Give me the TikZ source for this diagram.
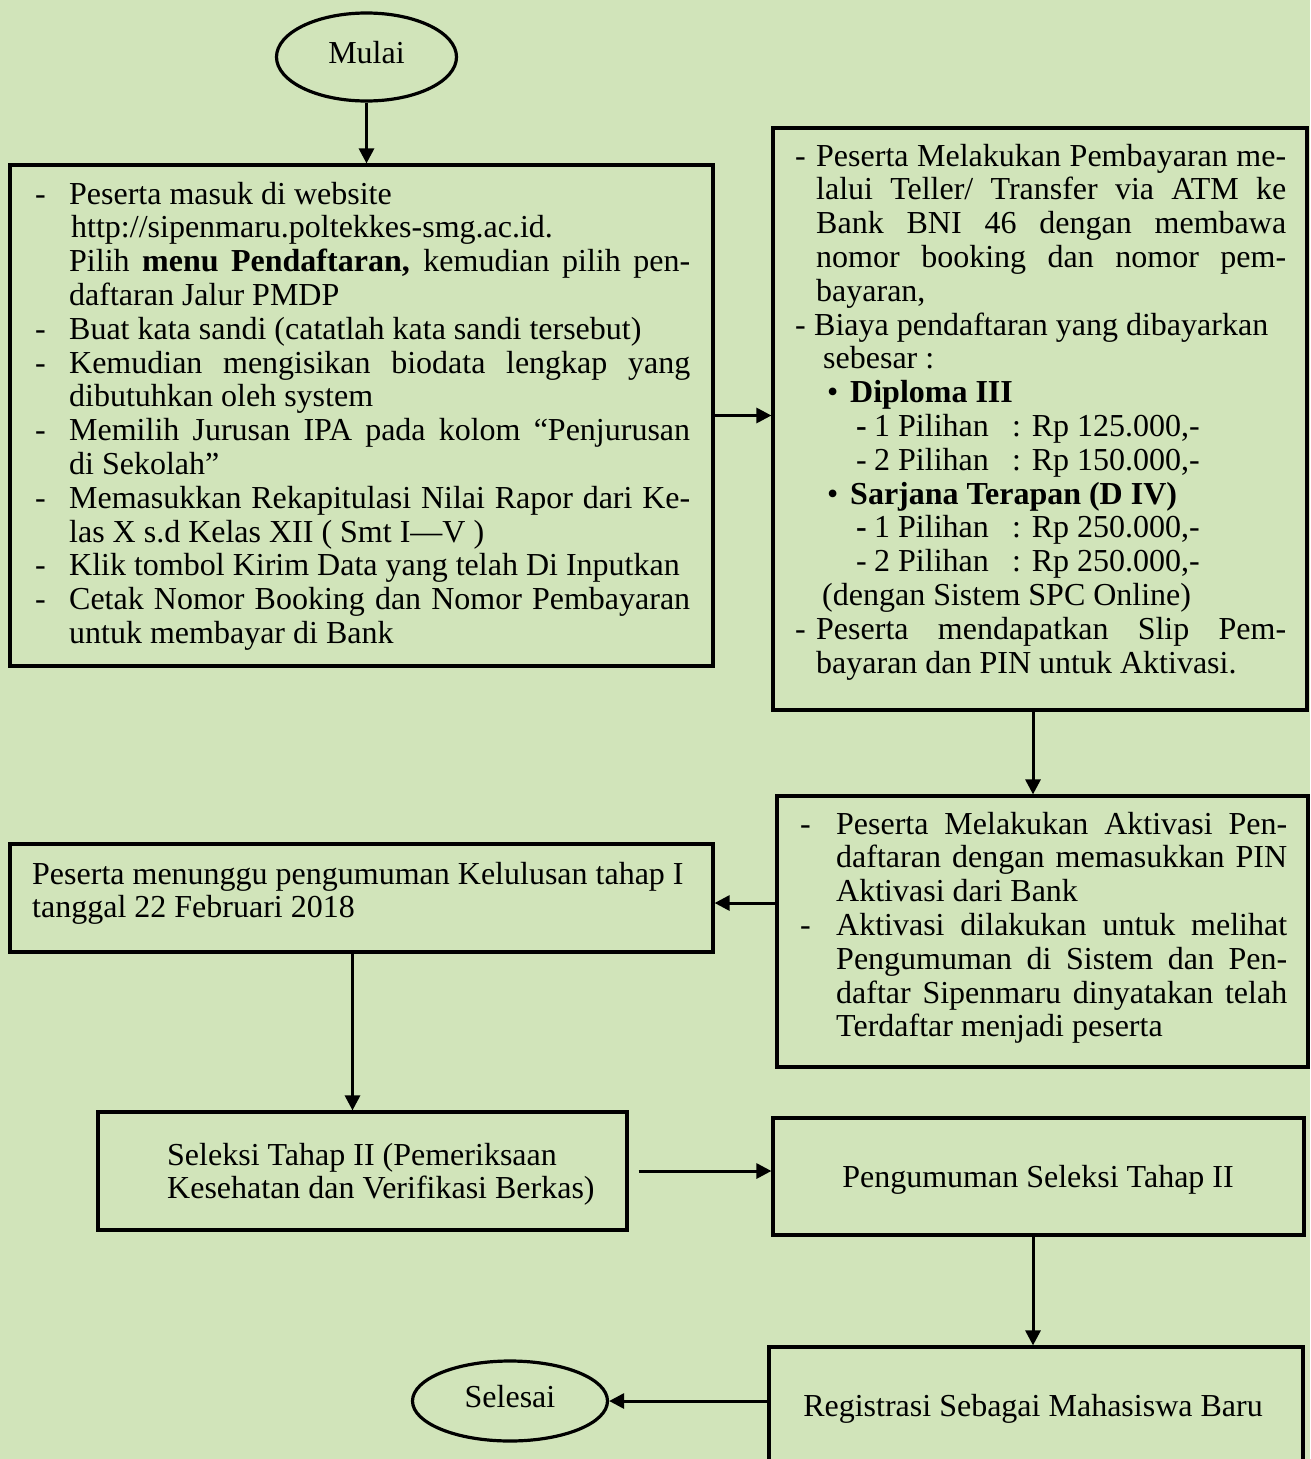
\documentclass[tikz,border=0pt]{standalone}
\usepackage{fontspec}
\setmainfont{Liberation Serif}
\usetikzlibrary{shapes.geometric,arrows.meta,calc}
\definecolor{bg}{RGB}{209,228,186}
\newcommand\fs{\fontsize{32}{33.8}\selectfont}
\newcommand\jl[2]{\makebox[#1][s]{#2}}
\newcommand\st{\strut}
\begin{document}
\begin{tikzpicture}[x=1pt,y=-1pt,
  box/.style={draw, line width=3.2pt, inner sep=0pt},
  term/.style={draw, ellipse, line width=3.2pt, inner sep=0pt, font=\fs, text height=21pt, text depth=9pt},
  txt/.style={inner sep=0pt, anchor=north west, align=left, font=\fs},
  one/.style={inner sep=0pt, anchor=base, font=\fs},
  arr/.style={line width=3pt, -{Triangle[length=15pt,width=15pt]}},
]
\useasboundingbox (0,0) rectangle (1310,1459);
\fill[bg] (0,0) rectangle (1310,1459);
\clip (0,0) rectangle (1310,1459);

% terminals
\node[term, minimum width=180pt, minimum height=88pt] (mulai) at (366.5,57) {Mulai};
\node[term, minimum width=195pt, minimum height=80pt] (sel) at (510,1401) {Selesai};

% boxes
\node[box, minimum width=703pt, minimum height=501pt] (b1) at (361.5,415.5) {};
\node[box, minimum width=534pt, minimum height=582pt] (b2) at (1040,419) {};
\node[box, minimum width=531pt, minimum height=271pt] (b3) at (1042.5,931.5) {};
\node[box, minimum width=703pt, minimum height=108pt] (b4) at (361.5,898) {};
\node[box, minimum width=529pt, minimum height=118pt] (b5) at (362.5,1171) {};
\node[box, minimum width=531pt, minimum height=117pt] (b6) at (1038.5,1176.5) {};
\node[box, minimum width=534pt, minimum height=160pt] (b7) at (1036,1427) {};

% texts
\node[txt] (t1) at (35,180.3) {%
\st\makebox[34pt][l]{-}Peserta masuk di website\\
\st\hspace*{36pt}http://sipenmaru.poltekkes-smg.ac.id.\\
\st\hspace*{34pt}\jl{621pt}{Pilih \textbf{menu Pendaftaran,} kemudian pilih pen-}\\
\st\hspace*{34pt}daftaran Jalur PMDP\\
\st\makebox[34pt][l]{-}Buat kata sandi (catatlah kata sandi tersebut)\\
\st\makebox[34pt][l]{-}\jl{621pt}{Kemudian mengisikan biodata lengkap yang}\\
\st\hspace*{34pt}dibutuhkan oleh system\\
\st\makebox[34pt][l]{-}\jl{621pt}{Memilih Jurusan IPA pada kolom “Penjurusan}\\
\st\hspace*{34pt}di Sekolah”\\
\st\makebox[34pt][l]{-}\jl{621pt}{Memasukkan Rekapitulasi Nilai Rapor dari Ke-}\\
\st\hspace*{34pt}las X s.d Kelas XII ( Smt I—V )\\
\st\makebox[34pt][l]{-}Klik tombol Kirim Data yang telah Di Inputkan\\
\st\makebox[34pt][l]{-}\jl{621pt}{Cetak Nomor Booking dan Nomor Pembayaran}\\
\st\hspace*{34pt}untuk membayar di Bank};

\node[txt] (t2) at (795,142.3) {%
\st\makebox[21pt][l]{-}\jl{470pt}{Peserta Melakukan Pembayaran me-}\\
\st\hspace*{21pt}\jl{470pt}{lalui Teller/ Transfer via ATM ke}\\
\st\hspace*{21pt}\jl{470pt}{Bank BNI 46 dengan membawa}\\
\st\hspace*{21pt}\jl{470pt}{nomor booking dan nomor pem-}\\
\st\hspace*{21pt}bayaran,\\
\st\makebox[19pt][l]{-}Biaya pendaftaran yang dibayarkan\\
\st\hspace*{28pt}sebesar :\\
\st\hspace*{32pt}\makebox[23pt][l]{•}\textbf{Diploma III}\\
\st\hspace*{61pt}\makebox[18pt][l]{\textbf{-}}\makebox[138pt][l]{1 Pilihan}: Rp 125.000,-\\
\st\hspace*{61pt}\makebox[18pt][l]{-}\makebox[138pt][l]{2 Pilihan}: Rp 150.000,-\\
\st\hspace*{32pt}\makebox[23pt][l]{•}\textbf{Sarjana Terapan (D IV)}\\
\st\hspace*{61pt}\makebox[18pt][l]{\textbf{-}}\makebox[138pt][l]{1 Pilihan}: Rp 250.000,-\\
\st\hspace*{61pt}\makebox[18pt][l]{-}\makebox[138pt][l]{2 Pilihan}: Rp 250.000,-\\
\st\hspace*{27pt}(dengan Sistem SPC Online)\\
\st\makebox[21pt][l]{-}\jl{470pt}{Peserta mendapatkan Slip Pem-}\\
\st\hspace*{21pt}bayaran dan PIN untuk Aktivasi.};

\node[txt] (t3) at (800,810.3) {%
\st\makebox[36pt][l]{-}\jl{451pt}{Peserta Melakukan Aktivasi Pen-}\\
\st\hspace*{36pt}\jl{451pt}{daftaran dengan memasukkan PIN}\\
\st\hspace*{36pt}Aktivasi dari Bank\\
\st\makebox[36pt][l]{-}\jl{451pt}{Aktivasi dilakukan untuk melihat}\\
\st\hspace*{36pt}\jl{451pt}{Pengumuman di Sistem dan Pen-}\\
\st\hspace*{36pt}\jl{451pt}{daftar Sipenmaru dinyatakan telah}\\
\st\hspace*{36pt}Terdaftar menjadi peserta};

\node[txt] (t4) at (32,860.3) {%
\st Peserta menunggu pengumuman Kelulusan tahap I\\
\st tanggal 22 Februari 2018};

\node[txt] (t5) at (167,1141.3) {%
\st Seleksi Tahap II (Pemeriksaan\\
\st Kesehatan dan Verifikasi Berkas)};

\node[one] (t6) at (1038,1187) {Pengumuman Seleksi Tahap II};
\node[one] (t7) at (1033,1416) {Registrasi Sebagai Mahasiswa Baru};

% connectors
\coordinate (a34) at ([yshift=-5pt]b4.east);
\draw[arr] (mulai.south) -- (mulai.south |- b1.north);
\draw[arr] (b1.east) -- (b1.east -| b2.west);
\draw[arr] ([xshift=-7pt]b2.south) -- ([xshift=-7pt]b2.south |- b3.north);
\draw[arr] (b3.west |- a34) -- (a34);
\draw[arr] ([xshift=-9pt]b4.south) -- ([xshift=-9pt]b4.south |- b5.north);
\draw[arr] ([xshift=10pt]b5.east) -- (b5.east -| b6.west);
\draw[arr] ([xshift=-5.5pt]b6.south) -- ([xshift=-5.5pt]b6.south |- b7.north);
\draw[arr] (b7.west |- sel.east) -- (sel.east);
\end{tikzpicture}
\end{document}
